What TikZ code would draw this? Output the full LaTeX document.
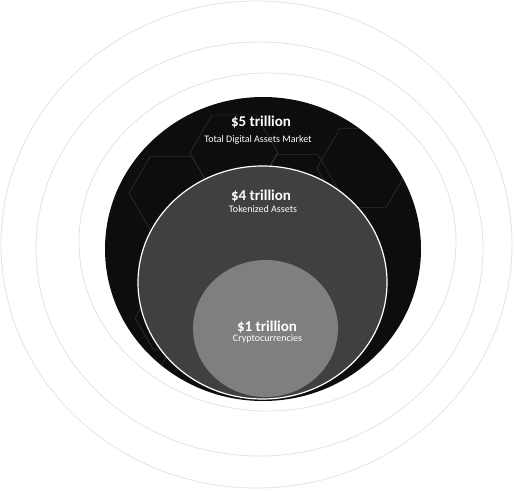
\documentclass[tikz,border=0pt]{standalone}
\usepackage{fontspec}
\setmainfont{Carlito}
\begin{document}
\begin{tikzpicture}[x=1pt,y=-1pt,
  ring/.style={draw=ringc,line width=0.8pt},
  hexline/.style={draw=hexc,line width=0.7pt},
  big/.style={text=white,font=\bfseries\fontsize{15}{17}\selectfont,anchor=base,inner sep=0pt},
  small/.style={text=white,font=\fontsize{10}{12}\selectfont,anchor=base,inner sep=0pt}]
\definecolor{ringc}{HTML}{E2E2F3}
\definecolor{hexc}{HTML}{2C2C2C}
\definecolor{blackc}{HTML}{0D0D0D}
\definecolor{tokc}{HTML}{404040}
\definecolor{cryc}{HTML}{7F7F7F}
\useasboundingbox[fill=white] (0,0) rectangle (514,490);
% faint outer rings
\draw[ring] (256.5,244.5) ellipse [x radius=255.5, y radius=243.5];
\draw[ring] (259.5,249) ellipse [x radius=223.5, y radius=207];
\draw[ring] (267.5,242) ellipse [x radius=188.5, y radius=169];
% black disc
\fill[blackc] (263,249) ellipse [x radius=158, y radius=152];
% hexagon pattern
\begin{scope}
\clip (263,249) ellipse [x radius=158, y radius=152];
\foreach \cx/\cy/\s in {234/153/44, 171/193/42, 363/168/46, 297/191/42, 171/318/36, 189/380/36, 335/330/36}{
  \draw[hexline] (\cx+\s,\cy) -- (\cx+0.5*\s,\cy-0.866*\s) -- (\cx-0.5*\s,\cy-0.866*\s)
    -- (\cx-\s,\cy) -- (\cx-0.5*\s,\cy+0.866*\s) -- (\cx+0.5*\s,\cy+0.866*\s) -- cycle;
}
\end{scope}
% tokenized disc
\draw[fill=tokc,draw=white,line width=1.2pt] (262.5,282.5) ellipse [x radius=124.5, y radius=116.5];
% crypto disc
\fill[cryc] (265.5,328.5) ellipse [x radius=72.5, y radius=68.5];
% labels
\node[big]   (t5) at (261,126)   {\$5 trillion};
\node[small] (s5) at (258,142.5) {Total Digital Assets Market};
\node[big]   (t4) at (261,200.5) {\$4 trillion};
\node[small] (s4) at (263,212.5) {Tokenized Assets};
\node[big]   (t1) at (267,331.5) {\$1 trillion};
\node[small] (s1) at (267.5,341.5) {Cryptocurrencies};
\end{tikzpicture}
\end{document}
